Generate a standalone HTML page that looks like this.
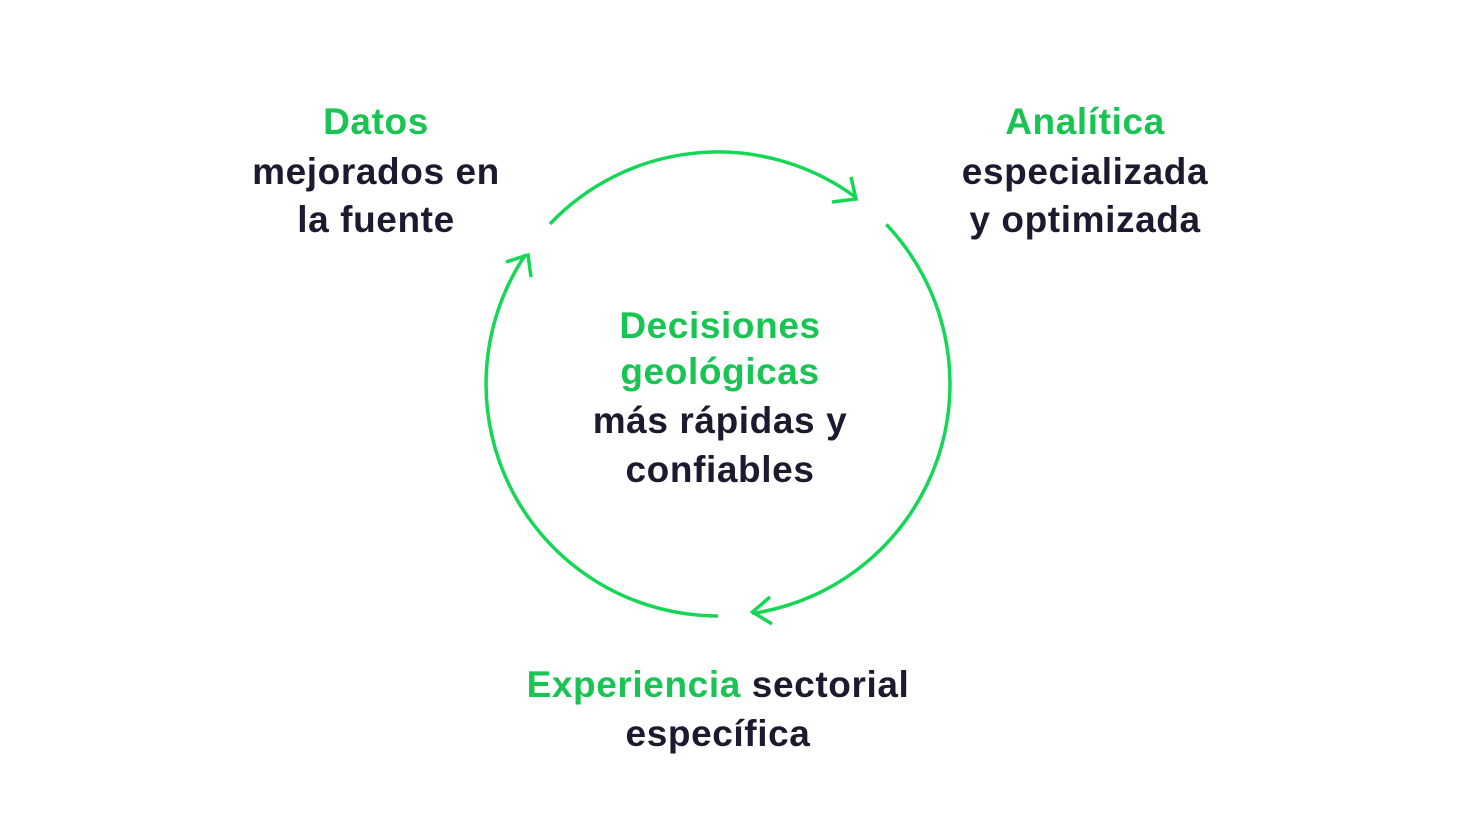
<!DOCTYPE html>
<html><head><meta charset="utf-8"><style>
html,body{margin:0;padding:0;background:#fff;}
body{width:1471px;height:826px;position:relative;overflow:hidden;font-family:"Liberation Sans",sans-serif;font-weight:bold;font-size:37px;letter-spacing:0.6px;}
.l{position:absolute;width:600px;text-align:center;line-height:40px;color:#1b1a2e;white-space:nowrap;}
.g{color:#18c552;}
svg{position:absolute;left:0;top:0;}
</style></head><body>
<svg width="1471" height="826" fill="none" stroke="#14d755" stroke-width="3.5" stroke-linecap="butt">
<path d="M550 223.9 A232 232 0 0 1 856 197.5"/>
<path d="M851 177 L856 199 L832 202"/>
<path d="M886.3 224.4 A232 232 0 0 1 752.3 613.5"/>
<path d="M770 597 L752.5 612 L772 624"/>
<path d="M718 616 A232 232 0 0 1 525.7 254.3"/>
<path d="M506 262 L528 255 L531 277"/>
</svg>
<div class="l g" style="left:76px;top:102px">Datos</div>
<div class="l" style="left:76px;top:152px">mejorados en</div>
<div class="l" style="left:76px;top:200px">la fuente</div>
<div class="l g" style="left:785px;top:102px">Analítica</div>
<div class="l" style="left:785px;top:152px">especializada</div>
<div class="l" style="left:785px;top:200px">y optimizada</div>
<div class="l g" style="left:420px;top:306px">Decisiones</div>
<div class="l g" style="left:420px;top:352px">geológicas</div>
<div class="l" style="left:420px;top:401px">más rápidas y</div>
<div class="l" style="left:420px;top:450px">confiables</div>
<div class="l" style="left:418px;top:665px"><span class="g">Experiencia</span> sectorial</div>
<div class="l" style="left:418px;top:714px">específica</div>
</body></html>
